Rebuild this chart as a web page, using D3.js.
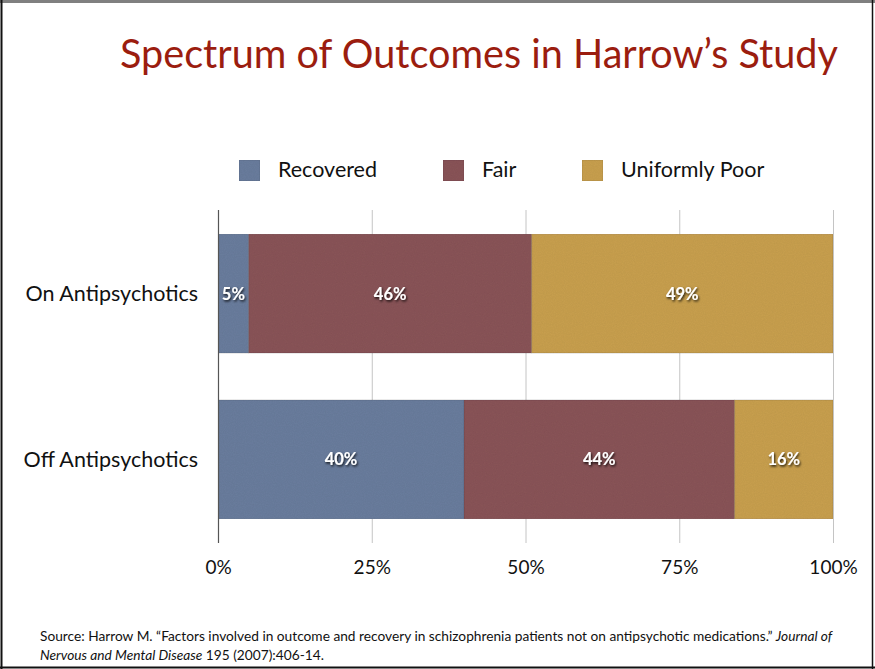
<!DOCTYPE html>
<html>
<head>
<meta charset="utf-8">
<script src="https://cdn.jsdelivr.net/npm/d3@7"></script>
<style>
  html, body { margin: 0; padding: 0; background: #fff; }
  svg { display: block; }
  text { font-family: Lato, "Open Sans", sans-serif; }
</style>
</head>
<body>
<svg id="chart" width="875" height="669"></svg>
<script>
// ---- data ----
const categories = ["On Antipsychotics", "Off Antipsychotics"];
const seriesNames = ["Recovered", "Fair", "Uniformly Poor"];
const recovered = [5, 40];
const fair = [46, 44];
const uniformlyPoor = [49, 16];
const tickValues = [0, 25, 50, 75, 100];
const tickLabels = ["0%", "25%", "50%", "75%", "100%"];
const colors = ["#6b7e9e", "#8a5559", "#c9a050"];
const titleText = "Spectrum of Outcomes in Harrow\u2019s Study";

const svg = d3.select("#chart");
const W = 875, H = 669;

// texture filter
const defs = svg.append("defs");
const f = defs.append("filter").attr("id", "tex").attr("x", 0).attr("y", 0).attr("width", 1).attr("height", 1);
f.append("feTurbulence").attr("type", "fractalNoise").attr("baseFrequency", 0.9).attr("numOctaves", 2).attr("seed", 3).attr("result", "noise");
f.append("feColorMatrix").attr("in", "noise").attr("type", "matrix")
  .attr("values", "0 0 0 0 0  0 0 0 0 0  0 0 0 0 0  0 0 0 0.12 0").attr("result", "dark");
f.append("feComposite").attr("in", "dark").attr("in2", "SourceGraphic").attr("operator", "in").attr("result", "darkIn");
f.append("feMerge").selectAll("feMergeNode").data(["SourceGraphic", "darkIn"]).join("feMergeNode").attr("in", d => d);

const sh = defs.append("filter").attr("id", "txtshadow").attr("x", "-20%").attr("y", "-30%").attr("width", "140%").attr("height", "160%");
sh.append("feDropShadow").attr("dx", 1).attr("dy", 1.5).attr("stdDeviation", 1).attr("flood-color", "#000").attr("flood-opacity", 0.85);

// frame
svg.append("line").attr("x1", 0).attr("x2", W).attr("y1", 1.5).attr("y2", 1.5).attr("stroke", "#808080").attr("stroke-width", 3);
svg.append("line").attr("x1", 1.5).attr("x2", 1.5).attr("y1", 0).attr("y2", H).attr("stroke", "#111").attr("stroke-width", 2);
svg.append("line").attr("x1", 872.5).attr("x2", 872.5).attr("y1", 0).attr("y2", H).attr("stroke", "#111").attr("stroke-width", 1.5);
svg.append("line").attr("x1", 0).attr("x2", W).attr("y1", 667.5).attr("y2", 667.5).attr("stroke", "#111").attr("stroke-width", 2);

// title
const title = svg.append("text").attr("x", 479).attr("y", 68).attr("text-anchor", "middle")
  .attr("fill", "#9b1d0f").style("font-size", "40px").text(titleText);
const tw = title.node().getComputedTextLength();
title.style("font-size", (40 * 718 / tw) + "px");

// scales
const x = d3.scaleLinear().domain([0, 100]).range([218, 833]);
const y = d3.scaleBand().domain(categories).range([210, 543]).paddingInner(0.283).paddingOuter(0.145);

// gridlines
svg.append("g").selectAll("line").data(tickValues.slice(1)).join("line")
  .attr("x1", d => x(d) + 0.5).attr("x2", d => x(d) + 0.5)
  .attr("y1", 210).attr("y2", 543).attr("stroke", "#c4c4c4").attr("stroke-width", 1);

// stacked data
const rows = categories.map((c, i) => ({ cat: c, Recovered: recovered[i], Fair: fair[i], "Uniformly Poor": uniformlyPoor[i] }));
const stack = d3.stack().keys(seriesNames)(rows);

const layers = svg.append("g").selectAll("g").data(stack).join("g").attr("fill", (d, i) => colors[i]);
layers.selectAll("rect").data(d => d).join("rect")
  .attr("x", d => x(d[0]))
  .attr("width", d => x(d[1]) - x(d[0]))
  .attr("y", d => y(d.data.cat))
  .attr("height", y.bandwidth())
  .attr("filter", "url(#tex)")
  .attr("stroke", "rgba(0,0,0,0.12)").attr("stroke-width", 1);

// bar labels
const lbl = svg.append("g");
stack.forEach((layer, si) => {
  layer.forEach(d => {
    lbl.append("text")
      .attr("x", (x(d[0]) + x(d[1])) / 2)
      .attr("y", y(d.data.cat) + y.bandwidth() / 2 + 6)
      .attr("text-anchor", "middle")
      .attr("fill", "#fff").style("font-size", "16.5px").style("font-weight", "bold")
      .attr("filter", "url(#txtshadow)")
      .text((d[1] - d[0]) + "%");
  });
});

// left axis line
svg.append("line").attr("x1", 218.5).attr("x2", 218.5).attr("y1", 210).attr("y2", 543)
  .attr("stroke", "#555").attr("stroke-width", 1.2);

// x axis tick labels
const xAxis = d3.axisBottom(x).tickValues(tickValues).tickFormat((d, i) => tickLabels[i]).tickSize(0).tickPadding(0);
const gx = svg.append("g").attr("transform", "translate(0,557)").call(xAxis);
gx.select(".domain").remove();
gx.selectAll("text").attr("fill", "#111").style("font-size", "19px").style("font-family", "Lato, sans-serif").attr("dy", "0.9em");

// y axis labels
const yAxis = d3.axisLeft(y).tickSize(0).tickPadding(0);
const gy = svg.append("g").attr("transform", "translate(198,0)").call(yAxis);
gy.select(".domain").remove();
gy.selectAll("text").attr("fill", "#111").style("font-size", "21.5px").style("font-family", "Lato, sans-serif").attr("dy", "0.35em");

// legend
const legend = svg.append("g");
const legX = [239, 443, 582];
seriesNames.forEach((s, i) => {
  legend.append("rect").attr("x", legX[i]).attr("y", 160).attr("width", 21).attr("height", 21)
    .attr("fill", colors[i]).attr("filter", "url(#tex)").attr("stroke", "rgba(0,0,0,0.1)");
  legend.append("text").attr("x", legX[i] + 39).attr("y", 177).attr("fill", "#111")
    .style("font-size", "21.5px").text(s);
});

// source
const src = svg.append("g").attr("fill", "#111").style("font-size", "12.3px");
const l1 = src.append("text").attr("x", 40).attr("y", 641);
l1.append("tspan").text("Source: Harrow M. \u201CFactors involved in outcome and recovery in schizophrenia patients not on antipsychotic medications.\u201D ");
l1.append("tspan").style("font-style", "italic").text("Journal of");
const l2 = src.append("text").attr("x", 40).attr("y", 660);
l2.append("tspan").style("font-style", "italic").text("Nervous and Mental Disease");
l2.append("tspan").text(" 195 (2007):406-14.");
const w1 = l1.node().getComputedTextLength();
src.style("font-size", (12.3 * 793 / w1) + "px");
</script>
</body>
</html>
